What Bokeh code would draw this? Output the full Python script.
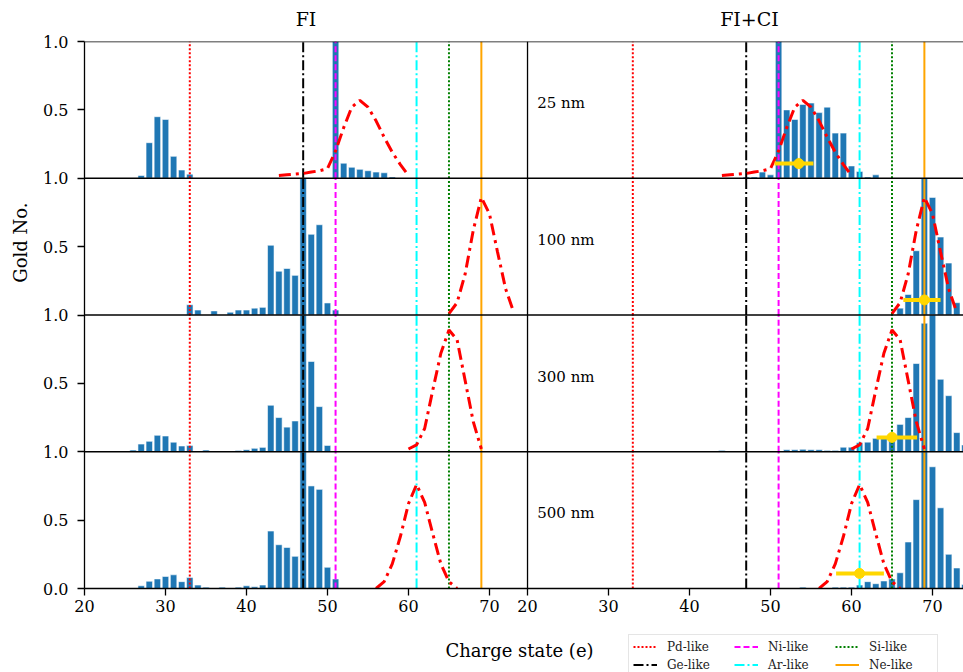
import numpy as np
from bokeh.plotting import figure
from bokeh.models import (Range1d, FixedTicker, CustomJSTickFormatter, Span, Label,
                          Legend, LegendItem)
from bokeh.layouts import column, row
from bokeh.embed import file_html
from bokeh.resources import INLINE

FONT = "DejaVu Serif"

# ---------------- data ----------------
LEFT_XLIM = (20, 74.7)
RIGHT_XLIM = (20, 73.83)
X_TICKS = [20, 30, 40, 50, 60, 70]
Y_TICKS_UPPER = [0.5, 1.0]
Y_TICKS_BOTTOM = [0.0, 0.5, 1.0]

COLUMN_TITLES = ["FI", "FI+CI"]
THICKNESS = ["25 nm", "100 nm", "300 nm", "500 nm"]

REF_NAMES = ["Pd-like", "Ge-like", "Ni-like", "Ar-like", "Si-like", "Ne-like"]
REF_Q = [33, 47, 51, 61, 65, 69]

# FI histograms
FI_25_Q = [27, 28, 29, 30, 31, 32, 33, 51, 52, 53, 54, 55, 56, 57, 58]
FI_25_F = [0.02, 0.26, 0.45, 0.43, 0.16, 0.06, 0.03, 1.0, 0.11, 0.08, 0.065, 0.055, 0.045, 0.04, 0.01]
FI_100_Q = [33, 34, 36, 38, 39, 40, 41, 42, 43, 44, 45, 46, 47, 48, 49, 50, 51]
FI_100_F = [0.075, 0.036, 0.03, 0.02, 0.036, 0.036, 0.05, 0.056, 0.51, 0.32, 0.34, 0.29, 1.0, 0.59, 0.66, 0.088, 0.036]
FI_300_Q = [26, 27, 28, 29, 30, 31, 32, 33, 35, 39, 40, 41, 42, 43, 44, 45, 46, 47, 48, 49, 50]
FI_300_F = [0.012, 0.056, 0.076, 0.12, 0.115, 0.07, 0.042, 0.045, 0.012, 0.01, 0.015, 0.025, 0.032,
            0.34, 0.25, 0.18, 0.225, 1.0, 0.66, 0.33, 0.046]
FI_500_Q = [27, 28, 29, 30, 31, 32, 33, 34, 35, 37, 39, 40, 41, 42, 43, 44, 45, 46, 47, 48, 49, 50, 51]
FI_500_F = [0.02, 0.053, 0.07, 0.088, 0.10, 0.05, 0.08, 0.025, 0.01, 0.01, 0.01, 0.02, 0.012, 0.025,
            0.42, 0.32, 0.30, 0.235, 1.0, 0.75, 0.725, 0.155, 0.07]

# FI+CI histograms
FICI_25_Q = [47, 48, 49, 50, 51, 52, 53, 54, 55, 56, 57, 58, 59, 60, 61, 62, 63]
FICI_25_F = [0.01, 0.01, 0.045, 0.025, 1.0, 0.50, 0.43, 0.54, 0.55, 0.48, 0.52, 0.33, 0.33, 0.09, 0.05, 0.01, 0.025]
FICI_100_Q = [66, 67, 68, 69, 70, 71, 72, 73]
FICI_100_F = [0.05, 0.15, 0.47, 1.0, 0.86, 0.57, 0.38, 0.09]
FICI_300_Q = [44, 52, 53, 54, 55, 56, 57, 58, 59, 60, 61, 62, 63, 64, 65, 66, 67, 68, 69, 70, 71, 72, 73, 74]
FICI_300_F = [0.01, 0.015, 0.015, 0.018, 0.015, 0.015, 0.01, 0.01, 0.033, 0.033, 0.066, 0.07, 0.098,
              0.115, 0.11, 0.20, 0.25, 0.645, 0.94, 1.0, 0.53, 0.41, 0.14, 0.05]
FICI_500_Q = [54, 58, 59, 60, 61, 62, 63, 64, 65, 66, 67, 68, 69, 70, 71, 72, 73, 74]
FICI_500_F = [0.01, 0.01, 0.01, 0.01, 0.025, 0.05, 0.035, 0.055, 0.07, 0.115, 0.34, 0.65, 1.0, 0.89,
              0.59, 0.25, 0.15, 0.03]

# measured distributions (red dash-dot)
EXP_25_Q = [44, 45, 46, 47, 48, 49, 50, 51, 52, 53, 54, 55, 56, 57, 58, 59, 60]
EXP_25_F = [0.02, 0.025, 0.03, 0.035, 0.045, 0.055, 0.07, 0.2, 0.37, 0.52, 0.57, 0.52, 0.42, 0.30, 0.19, 0.10, 0.02]
EXP_100_Q = [65, 66, 67, 68, 69, 70, 71, 72, 73]
EXP_100_F = [0.01, 0.09, 0.30, 0.62, 0.86, 0.74, 0.46, 0.19, 0.02]
EXP_300_Q = [60, 61, 62, 63, 64, 65, 66, 67, 68, 69]
EXP_300_F = [0.02, 0.05, 0.17, 0.45, 0.72, 0.89, 0.82, 0.52, 0.22, 0.02]
EXP_500_Q = [56, 57, 58, 59, 60, 61, 62, 63, 64, 65, 66]
EXP_500_F = [0.0, 0.05, 0.18, 0.38, 0.62, 0.76, 0.63, 0.40, 0.18, 0.05, 0.0]

# mean charge with spread (FI+CI)
EB_CENTER = [53.5, 69.0, 65.0, 61.0]
EB_Y = [0.107, 0.11, 0.105, 0.11]
EB_LO = [3.0, 2.6, 1.9, 2.9]
EB_HI = [1.8, 2.0, 3.1, 3.0]

FI_Q = [FI_25_Q, FI_100_Q, FI_300_Q, FI_500_Q]
FI_F = [FI_25_F, FI_100_F, FI_300_F, FI_500_F]
FICI_Q = [FICI_25_Q, FICI_100_Q, FICI_300_Q, FICI_500_Q]
FICI_F = [FICI_25_F, FICI_100_F, FICI_300_F, FICI_500_F]
EXP_Q = [EXP_25_Q, EXP_100_Q, EXP_300_Q, EXP_500_Q]
EXP_F = [EXP_25_F, EXP_100_F, EXP_300_F, EXP_500_F]

# ---------------- styles ----------------
REF_COLORS = ["#ff0000", "#000000", "#ff00ff", "#00ffff", "#008000", "#ffa500"]
REF_DASH = ["2 2", "10 3 2 3", "6 3", "10 3 2 3", "2 2", "solid"]
BAR_COLOR = "#1f77b4"
GOLD = "#ffd700"

LEFT_W = LEFT_XLIM[1] - LEFT_XLIM[0]
RIGHT_W = RIGHT_XLIM[1] - RIGHT_XLIM[0]
NROWS = 4

main = figure(width=923, height=593, x_range=Range1d(0, LEFT_W + RIGHT_W),
              y_range=Range1d(0, NROWS), output_backend="svg", toolbar_location=None,
              min_border_left=44, min_border_right=0, min_border_top=12, min_border_bottom=34)
main.outline_line_color = None
main.grid.visible = False
main.background_fill_color = "white"


def lookup_formatter(pos, labs):
    return CustomJSTickFormatter(args=dict(pos=pos, labs=labs), code="""
let best = 0, d = Infinity;
for (let i = 0; i < pos.length; i++) {
  const e = Math.abs(pos[i] - tick);
  if (e < d) { d = e; best = i; }
}
return labs[best];
""")


# x ticks (two columns)
xpos, xlab = [], []
for off, xlim in ((0.0, LEFT_XLIM), (LEFT_W, RIGHT_XLIM)):
    for v in X_TICKS:
        if xlim[0] <= v <= xlim[1]:
            xpos.append(off + v - xlim[0])
            xlab.append(str(v))
# y ticks (four rows)
ypos, ylab = [], []
for r in range(NROWS):
    base = NROWS - 1 - r
    ticks = Y_TICKS_BOTTOM if r == NROWS - 1 else Y_TICKS_UPPER
    for t in ticks:
        ypos.append(base + t)
        ylab.append("%.1f" % t)

xa = main.xaxis[0]
ya = main.yaxis[0]
xa.ticker = FixedTicker(ticks=xpos)
xa.formatter = lookup_formatter(xpos, xlab)
ya.ticker = FixedTicker(ticks=ypos)
ya.formatter = lookup_formatter(ypos, ylab)
for ax in (xa, ya):
    ax.axis_line_width = 1.3
    ax.major_tick_line_width = 1.3
    ax.major_tick_out = 7
    ax.major_tick_in = 0
    ax.minor_tick_line_color = None
    ax.major_label_text_font = FONT
    ax.major_label_text_font_size = "16px"
    ax.major_label_text_color = "black"
ya.major_label_standoff = 9
xa.major_label_standoff = 4

for r in range(NROWS):
    base = NROWS - 1 - r
    for c in range(2):
        if c == 0:
            xlim, tgt, qs, fs = LEFT_XLIM, (0.0, LEFT_W), FI_Q[r], FI_F[r]
        else:
            xlim, tgt, qs, fs = RIGHT_XLIM, (LEFT_W, LEFT_W + RIGHT_W), FICI_Q[r], FICI_F[r]
        sub = main.subplot(x_source=Range1d(*xlim), y_source=Range1d(0, 1),
                           x_target=Range1d(*tgt), y_target=Range1d(base, base + 1))
        sub.vbar(x=qs, top=fs, bottom=0, width=0.8, fill_color=BAR_COLOR,
                 line_color="white", line_width=0.8, line_alpha=0.7)
        for q, col, dash in zip(REF_Q, REF_COLORS, REF_DASH):
            sub.segment(x0=[q], y0=[0], x1=[q], y1=[1], line_color=col,
                        line_dash=dash, line_width=2)
        sub.line(x=EXP_Q[r], y=EXP_F[r], line_color="#ff0000", line_width=3,
                 line_dash="12 5 3 5")
        if c == 1:
            cx, cy = EB_CENTER[r], EB_Y[r]
            sub.segment(x0=[cx - EB_LO[r]], y0=[cy], x1=[cx + EB_HI[r]], y1=[cy],
                        line_color=GOLD, line_width=4)
            sub.scatter(x=[cx], y=[cy], size=10, fill_color=GOLD, line_color=GOLD)
    main.add_layout(Label(x=LEFT_W + 1.2, y=base + 0.55, text=THICKNESS[r],
                          text_font=FONT, text_font_size="15px", text_baseline="middle",
                          text_color="black"))

for yb in range(1, NROWS + 1):
    main.add_layout(Span(location=yb, dimension="width", line_color="black", line_width=1.3))
main.add_layout(Span(location=LEFT_W, dimension="height", line_color="black", line_width=1.3))

# ---------------- y label strip ----------------
ylabf = figure(width=40, height=593, x_range=Range1d(0, 40), y_range=Range1d(0, 593),
               output_backend="svg", toolbar_location=None, min_border=0,
               x_axis_location=None, y_axis_location=None)
ylabf.outline_line_color = None
ylabf.grid.visible = False
ylabf.add_layout(Label(x=20, y=375, text="Gold No.", angle=np.pi / 2, text_align="center",
                       text_baseline="middle", text_font=FONT, text_font_size="18px",
                       text_color="black"))

# ---------------- header ----------------
head = figure(width=963, height=29, x_range=Range1d(0, 963), y_range=Range1d(0, 29),
              output_backend="svg", toolbar_location=None, min_border=0,
              x_axis_location=None, y_axis_location=None)
head.outline_line_color = None
head.grid.visible = False
for t, xc in zip(COLUMN_TITLES, (305.5, 749)):
    head.add_layout(Label(x=xc, y=11, text=t, text_align="center", text_baseline="middle",
                          text_font=FONT, text_font_size="19px", text_color="black"))

# ---------------- footer ----------------
foot = figure(width=963, height=50, x_range=Range1d(0, 963), y_range=Range1d(0, 50),
              output_backend="svg", toolbar_location=None, min_border=0,
              x_axis_location=None, y_axis_location=None)
foot.outline_line_color = None
foot.grid.visible = False
foot.add_layout(Label(x=519, y=22, text="Charge state (e)", text_align="center",
                      text_baseline="middle", text_font=FONT, text_font_size="18px",
                      text_color="black"))
items = []
for name, col, dash in zip(REF_NAMES, REF_COLORS, REF_DASH):
    rr = foot.line(x=np.array([np.nan, np.nan]), y=np.array([np.nan, np.nan]),
                   line_color=col, line_dash=dash, line_width=2)
    items.append(LegendItem(label=name, renderers=[rr]))
leg = Legend(items=items, location=(628, -5), orientation="vertical", nrows=2,
             glyph_width=24, glyph_height=15, label_height=15, label_width=64,
             label_standoff=10, spacing=3, padding=4, margin=0,
             label_text_font=FONT, label_text_font_size="12px", label_text_color="#222222",
             border_line_color="#cccccc", border_line_width=1,
             background_fill_color="white", background_fill_alpha=1.0)
foot.add_layout(leg)

layout = column(head, row(ylabf, main), foot)
open("out.html", "w").write(file_html(layout, INLINE))
